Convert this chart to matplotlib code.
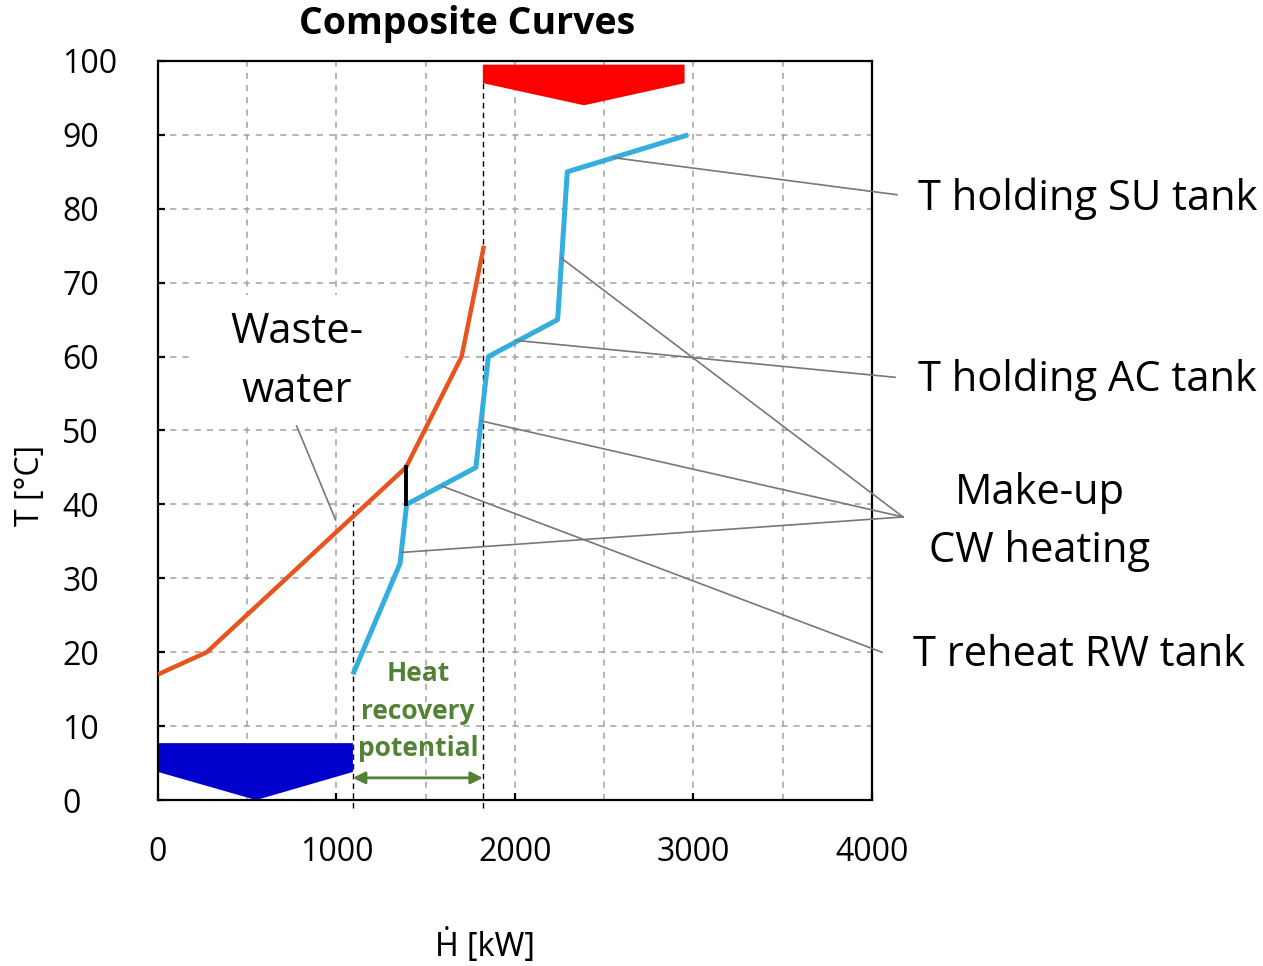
import matplotlib
matplotlib.use("Agg")
import matplotlib.pyplot as plt
from matplotlib.patches import Rectangle
from matplotlib.ticker import MultipleLocator

plt.rcParams["font.family"] = ["Open Sans", "DejaVu Sans"]

# hot composite (waste water) and cold composite curves
hot_H = [0, 273, 1389, 1701, 1826]
hot_T = [17, 20, 45, 60, 75]
cold_H = [1092, 1356, 1393, 1781, 1851, 2239, 2293, 2970]
cold_T = [17, 32, 40, 45, 60, 65, 85, 90]

# utilities
hot_util_H = [1820, 2950, 2950, 2387, 1820]
hot_util_T = [99.5, 99.5, 97, 94, 97]
cold_util_H = [0, 1092, 1092, 550, 0]
cold_util_T = [7.7, 7.7, 3.8, 0, 3.8]

pinch_H = 1390
pinch_T = [40, 45]
recovery_H = [1092, 1820]

# annotation connectors: (start on curve) -> (end outside the axes)
labels = ["T holding SU tank", "T holding AC tank", "Make-up\nCW heating", "T reheat RW tank"]
su_line = ([2555, 4140], [86.9, 81.9])
ac_line = ([2000, 4129], [62.2, 57.2])
makeup_lines = [([2261, 4174], [73.3, 38.3]),
                ([1810, 4174], [51.3, 38.3]),
                ([1363, 4174], [33.5, 38.3])]
rw_line = ([1589, 4056], [42.5, 20])
ww_line = ([777, 995], [50.6, 37.9])

fig = plt.figure(figsize=(12.63, 9.66), dpi=100)
ax = fig.add_axes([0.1251, 0.1718, 0.5653, 0.7651])

ax.set_xlim(0, 4000)
ax.set_ylim(0, 100)
ax.xaxis.set_major_locator(MultipleLocator(1000))
ax.xaxis.set_minor_locator(MultipleLocator(500))
ax.yaxis.set_major_locator(MultipleLocator(10))

ax.set_axisbelow(True)
grid_kw = dict(color="#a0a0a0", linestyle=(0, (4, 4)), linewidth=1.1)
ax.grid(True, which="major", **grid_kw)
ax.grid(True, which="minor", axis="x", **grid_kw)

for s in ax.spines.values():
    s.set_linewidth(1.6)

ax.tick_params(axis="x", which="major", direction="in", length=5, width=1.6,
               labelsize=23, pad=26)
ax.tick_params(axis="x", which="minor", length=0)
ax.tick_params(axis="y", direction="in", length=5, width=1.6, labelsize=23, pad=69)
for lab in ax.get_yticklabels():
    lab.set_horizontalalignment("left")

# white box behind the waste-water label
ax.add_patch(Rectangle((196, 50.7), 1188, 17.6, facecolor="white", edgecolor="none", zorder=1))

ax.plot([recovery_H[0]] * 2, [-1.1, 40], color="black", lw=1, linestyle=(0, (4, 3)),
        clip_on=False, zorder=1.5)
ax.plot([recovery_H[1]] * 2, [-1.1, 97], color="black", lw=1, linestyle=(0, (4, 3)),
        clip_on=False, zorder=1.5)

ax.fill(hot_util_H, hot_util_T, color="#ff0000", lw=0, zorder=2)
ax.fill(cold_util_H, cold_util_T, color="#0000cc", lw=0, zorder=2)

ax.plot(hot_H, hot_T, color="#e8541e", lw=3.2, zorder=3, solid_capstyle="butt")
ax.plot(cold_H, cold_T, color="#34addf", lw=3.6, zorder=3, solid_capstyle="butt")
ax.plot([pinch_H, pinch_H], pinch_T, color="black", lw=2.8, zorder=4)

ax.annotate("", xy=(recovery_H[1], 3), xytext=(recovery_H[0], 3),
            arrowprops=dict(arrowstyle="<|-|>", color="#538135", lw=2, mutation_scale=18,
                            shrinkA=0, shrinkB=0), zorder=4)
ax.text(1457, 12, "Heat\nrecovery\npotential", color="#538135", fontsize=19,
        fontweight="bold", ha="center", va="center", linespacing=1.5, zorder=4)

line_kw = dict(color="#777777", lw=1.2, clip_on=False, zorder=3)
for xs, ys in [su_line, ac_line, rw_line, ww_line] + makeup_lines:
    ax.plot(xs, ys, **line_kw)

txt_kw = dict(fontsize=30, clip_on=False, va="center")
ax.text(4258, 81.4, labels[0], ha="left", **txt_kw)
ax.text(4258, 56.9, labels[1], ha="left", **txt_kw)
ax.text(4941, 37.6, labels[2], ha="center", linespacing=1.52, **txt_kw)
ax.text(4230, 19.6, labels[3], ha="left", **txt_kw)
ax.text(779, 59.3, "Waste-\nwater", ha="center", va="center", fontsize=30,
        linespacing=1.52, zorder=4)

ax.text(0.433, 1.050, "Composite Curves", transform=ax.transAxes, ha="center",
        va="center", fontsize=27, fontweight="bold")

ax.set_xlabel("Ḣ [kW]", fontsize=23, va="center", family=["Noto Sans", "DejaVu Sans"])
ax.xaxis.set_label_coords(0.458, -0.198)
ax.set_ylabel("T [°C]", fontsize=23, va="center")
ax.yaxis.set_label_coords(-0.179, 0.426)

fig.savefig("out.png", dpi=100)
